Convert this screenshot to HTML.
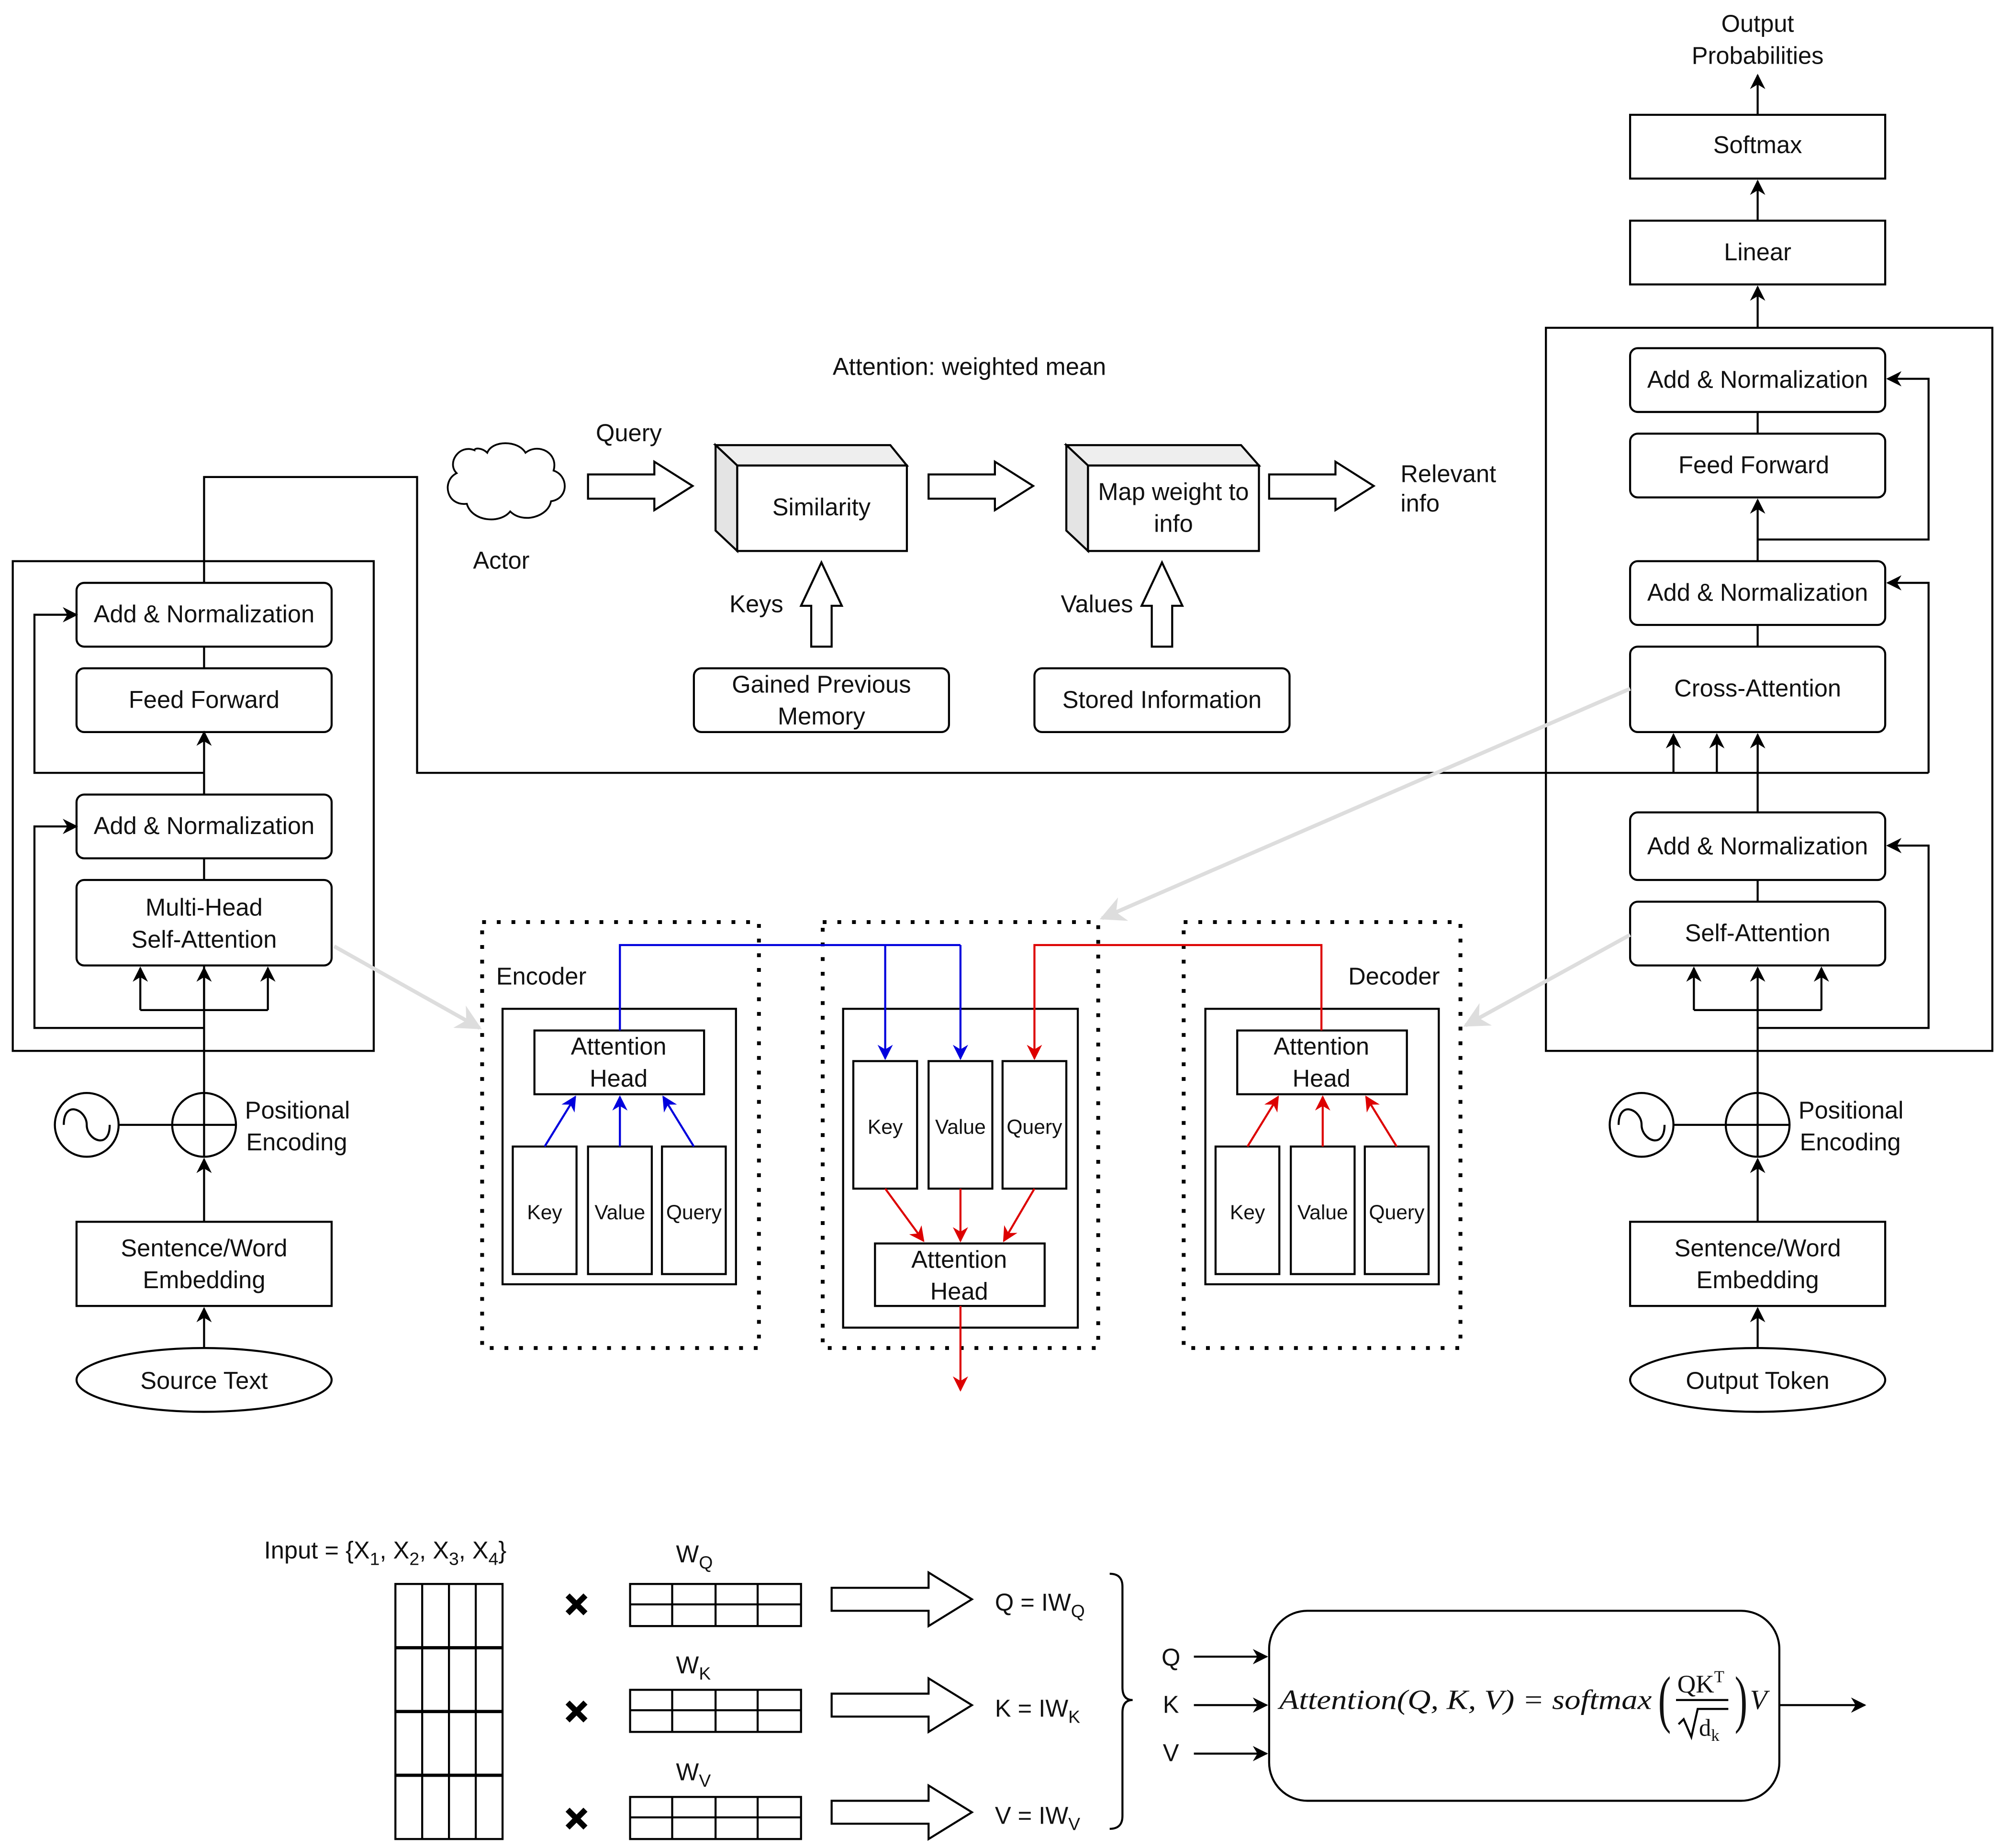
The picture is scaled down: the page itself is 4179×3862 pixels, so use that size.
<!DOCTYPE html>
<html><head><meta charset="utf-8"><style>
html,body{margin:0;padding:0;background:#fff;}
svg{display:block;}
text{font-family:"Liberation Sans",sans-serif;font-size:19px;fill:#111;}
.c{text-anchor:middle;}
.s{font-size:16px;}
.m{font-family:"Liberation Serif",serif;font-style:italic;font-size:22px;}
</style></head><body>
<svg width="4179" height="3862" viewBox="0 0 1568 1449" xmlns="http://www.w3.org/2000/svg">
<defs>
<marker id="ak" viewBox="0 0 10 10" refX="9" refY="5" markerWidth="12" markerHeight="12" orient="auto" markerUnits="userSpaceOnUse"><path d="M0,0 L10,5 L0,10 L3,5z" fill="#000"/></marker>
<marker id="ab" viewBox="0 0 10 10" refX="9" refY="5" markerWidth="12" markerHeight="12" orient="auto" markerUnits="userSpaceOnUse"><path d="M0,0 L10,5 L0,10 L3,5z" fill="#0000dd"/></marker>
<marker id="ar" viewBox="0 0 10 10" refX="9" refY="5" markerWidth="12" markerHeight="12" orient="auto" markerUnits="userSpaceOnUse"><path d="M0,0 L10,5 L0,10 L3,5z" fill="#dd0000"/></marker>
<marker id="ag" viewBox="0 0 10 10" refX="9" refY="5" markerWidth="20" markerHeight="20" orient="auto" markerUnits="userSpaceOnUse"><path d="M0,0 L10,5 L0,10 L3,5z" fill="#ddd"/></marker>
</defs>
<g fill="none" stroke="#000" stroke-width="1.6">
<rect x="10" y="440" width="283" height="384"/>
<path d="M160,507V524 M160,673V690 M160,857V757"/>
<path d="M160,457V374H327V606H1512"/>
<path d="M160,606V574" marker-end="url(#ak)"/>
<path d="M160,623V606"/>
<path d="M160,606H27V482H60" marker-end="url(#ak)"/>
<path d="M160,806H27V648H60" marker-end="url(#ak)"/>
<path d="M110,792H210"/>
<path d="M110,792V759" marker-end="url(#ak)"/><path d="M160,792V759" marker-end="url(#ak)"/><path d="M210,792V759" marker-end="url(#ak)"/>
<path d="M160,958V909" marker-end="url(#ak)"/>
<path d="M160,1057V1026" marker-end="url(#ak)"/>
<circle cx="68" cy="882" r="25"/><path d="M50,882C50,862 68,870 68,882S86,902 86,882"/>
<circle cx="160" cy="882" r="25"/><path d="M135,882H185M160,857V907M93,882H135"/>
<ellipse cx="160" cy="1082" rx="100" ry="25"/>
<rect x="60" y="958" width="200" height="66"/>
<rect x="60" y="457" width="200" height="50" rx="6"/>
<rect x="60" y="524" width="200" height="50" rx="6"/>
<rect x="60" y="623" width="200" height="50" rx="6"/>
<rect x="60" y="690" width="200" height="67" rx="6"/>
<rect x="1212" y="257" width="350" height="567"/>
<path d="M1378,257V225" marker-end="url(#ak)"/>
<path d="M1378,173V142" marker-end="url(#ak)"/>
<path d="M1378,90V59" marker-end="url(#ak)"/>
<path d="M1378,323V340"/>
<path d="M1378,440V392" marker-end="url(#ak)"/>
<path d="M1378,490V507 M1378,690V707 M1378,637V576"/>
<path d="M1378,606V576" marker-end="url(#ak)"/>
<path d="M1312,606V576" marker-end="url(#ak)"/>
<path d="M1346,606V576" marker-end="url(#ak)"/>
<path d="M1378,423H1512V297H1480" marker-end="url(#ak)"/>
<path d="M1512,606V457H1480" marker-end="url(#ak)"/>
<path d="M1378,806H1512V663H1480" marker-end="url(#ak)"/>
<path d="M1328,792H1428"/>
<path d="M1328,792V759" marker-end="url(#ak)"/><path d="M1378,792V759" marker-end="url(#ak)"/><path d="M1428,792V759" marker-end="url(#ak)"/>
<path d="M1378,857V792"/>
<path d="M1378,958V909" marker-end="url(#ak)"/>
<path d="M1378,1057V1026" marker-end="url(#ak)"/>
<circle cx="1287" cy="882" r="25"/><path d="M1269,882C1269,862 1287,870 1287,882S1305,902 1305,882"/>
<circle cx="1378" cy="882" r="25"/><path d="M1353,882H1403M1378,857V907M1312,882H1353"/>
<ellipse cx="1378" cy="1082" rx="100" ry="25"/>
<rect x="1278" y="958" width="200" height="66"/>
<rect x="1278" y="90" width="200" height="50"/>
<rect x="1278" y="173" width="200" height="50"/>
<rect x="1278" y="273" width="200" height="50" rx="6"/>
<rect x="1278" y="340" width="200" height="50" rx="6"/>
<rect x="1278" y="440" width="200" height="50" rx="6"/>
<rect x="1278" y="507" width="200" height="67" rx="6"/>
<rect x="1278" y="637" width="200" height="53" rx="6"/>
<rect x="1278" y="707" width="200" height="50" rx="6"/>
<path d="M372,353c-12,-5 -22,10 -14,18c-12,6 -8,26 8,24c4,14 26,16 34,6c10,10 30,4 32,-8c14,-2 14,-20 2,-24c4,-14 -12,-22 -22,-14c-6,-10 -26,-10 -30,0c-4,-4 -10,-4 -10,-2z" stroke-width="1.4"/>
<path d="M461,372H513V362L543,381L513,400V391H461Z"/>
<path d="M728,372H780V362L810,381L780,400V391H728Z"/>
<path d="M995,372H1047V362L1077,381L1047,400V391H995Z"/>
<path d="M561,349H698L711,365H578Z" fill="#eee"/>
<path d="M561,349L578,365V432L561,416Z" fill="#e4e4e4"/>
<rect x="578" y="365" width="133" height="67" fill="#fff"/>
<path d="M836,349H973L987,365H853Z" fill="#eee"/>
<path d="M836,349L853,365V432L836,416Z" fill="#e4e4e4"/>
<rect x="853" y="365" width="134" height="67" fill="#fff"/>
<path d="M636,507V475H628L644,441L660,475H652V507Z"/>
<path d="M903,507V475H895L911,441L927,475H919V507Z"/>
<rect x="544" y="524" width="200" height="50" rx="6"/>
<rect x="811" y="524" width="200" height="50" rx="6"/>
</g>
<g stroke="#ddd" stroke-width="3" fill="none">
<path d="M262,742L376,806" marker-end="url(#ag)"/>
<path d="M1278,540L864,720" marker-end="url(#ag)"/>
<path d="M1278,733L1149,804" marker-end="url(#ag)"/>
</g>
<g fill="none" stroke="#000" stroke-width="1.6">
<rect x="378" y="723" width="217" height="334" stroke-width="3" stroke-dasharray="3,8.5"/>
<rect x="645" y="723" width="216" height="334" stroke-width="3" stroke-dasharray="3,8.5"/>
<rect x="928" y="723" width="217" height="334" stroke-width="3" stroke-dasharray="3,8.5"/>
<rect x="394" y="791" width="183" height="216"/>
<rect x="419" y="808" width="133" height="50"/>
<rect x="402" y="899" width="50" height="100"/><rect x="461" y="899" width="50" height="100"/><rect x="519" y="899" width="50" height="100"/>
<rect x="661" y="791" width="184" height="250"/>
<rect x="669" y="832" width="50" height="100"/><rect x="728" y="832" width="50" height="100"/><rect x="786" y="832" width="50" height="100"/>
<rect x="686" y="975" width="133" height="49"/>
<rect x="945" y="791" width="183" height="216"/>
<rect x="970" y="808" width="133" height="50"/>
<rect x="953" y="899" width="50" height="100"/><rect x="1012" y="899" width="50" height="100"/><rect x="1070" y="899" width="50" height="100"/>
</g>
<g fill="none" stroke="#0000dd" stroke-width="1.6">
<path d="M427,899L451,860" marker-end="url(#ab)"/>
<path d="M486,899V860" marker-end="url(#ab)"/>
<path d="M544,899L520,860" marker-end="url(#ab)"/>
<path d="M486,808V741H753"/>
<path d="M694,741V830" marker-end="url(#ab)"/>
<path d="M753,741V830" marker-end="url(#ab)"/>
</g>
<g fill="none" stroke="#dd0000" stroke-width="1.6">
<path d="M978,899L1002,860" marker-end="url(#ar)"/>
<path d="M1037,899V860" marker-end="url(#ar)"/>
<path d="M1095,899L1071,860" marker-end="url(#ar)"/>
<path d="M1036,808V741H811V830" marker-end="url(#ar)"/>
<path d="M694,932L724,973" marker-end="url(#ar)"/>
<path d="M753,932V973" marker-end="url(#ar)"/>
<path d="M811,932L787,973" marker-end="url(#ar)"/>
<path d="M753,1024V1090" marker-end="url(#ar)"/>
</g>
<g fill="none" stroke="#000" stroke-width="1.6">
<rect x="310" y="1242" width="84" height="200"/>
<path d="M331,1242V1442M352,1242V1442M373,1242V1442"/>
<path d="M310,1292H394M310,1342H394M310,1392H394" stroke-width="2.5"/>
<rect x="494" y="1242" width="134" height="33"/><path d="M494,1258H628M527,1242V1275M561,1242V1275M594,1242V1275"/>
<rect x="494" y="1325" width="134" height="33"/><path d="M494,1341H628M527,1325V1358M561,1325V1358M594,1325V1358"/>
<rect x="494" y="1409" width="134" height="33"/><path d="M494,1425H628M527,1409V1442M561,1409V1442M594,1409V1442"/>
<path d="M652,1245H728V1233L762,1254L728,1275V1263H652Z"/>
<path d="M652,1328H728V1316L762,1337L728,1358V1346H652Z"/>
<path d="M652,1412H728V1400L762,1421L728,1442V1430H652Z"/>
<path d="M870,1234Q880,1234 880,1244V1323Q880,1333 888,1333Q880,1333 880,1343V1424Q880,1434 870,1434"/>
<path d="M936,1299H993" marker-end="url(#ak)"/>
<path d="M936,1337H993" marker-end="url(#ak)"/>
<path d="M936,1375H993" marker-end="url(#ak)"/>
<rect x="995" y="1263" width="400" height="149" rx="30"/>
<path d="M1395,1337H1462" marker-end="url(#ak)"/>
<path d="M1314,1333H1355"/>
<path d="M1316,1352l4,-4l6,14l5,-22h24"/>
</g>
<g stroke="#000" stroke-width="4.5">
<path d="M445,1251l14,14M459,1251l-14,14M445,1335l14,14M459,1335l-14,14M445,1419l14,14M459,1419l-14,14"/>
</g>
<g>
<text x="160" y="488" class="c">Add &amp; Normalization</text>
<text x="160" y="555" class="c">Feed Forward</text>
<text x="160" y="654" class="c">Add &amp; Normalization</text>
<text x="160" y="718" class="c">Multi-Head</text>
<text x="160" y="743" class="c">Self-Attention</text>
<text x="192" y="877">Positional</text>
<text x="193" y="902">Encoding</text>
<text x="160" y="985" class="c">Sentence/Word</text>
<text x="160" y="1010" class="c">Embedding</text>
<text x="160" y="1089" class="c">Source Text</text>
<text x="1378" y="25" class="c">Output</text>
<text x="1378" y="50" class="c">Probabilities</text>
<text x="1378" y="120" class="c">Softmax</text>
<text x="1378" y="204" class="c">Linear</text>
<text x="1378" y="304" class="c">Add &amp; Normalization</text>
<text x="1375" y="371" class="c">Feed Forward</text>
<text x="1378" y="471" class="c">Add &amp; Normalization</text>
<text x="1378" y="546" class="c">Cross-Attention</text>
<text x="1378" y="670" class="c">Add &amp; Normalization</text>
<text x="1378" y="738" class="c">Self-Attention</text>
<text x="1410" y="877">Positional</text>
<text x="1411" y="902">Encoding</text>
<text x="1378" y="985" class="c">Sentence/Word</text>
<text x="1378" y="1010" class="c">Embedding</text>
<text x="1378" y="1089" class="c">Output Token</text>
<text x="760" y="294" class="c">Attention: weighted mean</text>
<text x="493" y="346" class="c">Query</text>
<text x="393" y="446" class="c">Actor</text>
<text x="644" y="404" class="c">Similarity</text>
<text x="920" y="392" class="c">Map weight to</text>
<text x="920" y="417" class="c">info</text>
<text x="1098" y="378">Relevant</text>
<text x="1098" y="401">info</text>
<text x="593" y="480" class="c">Keys</text>
<text x="860" y="480" class="c">Values</text>
<text x="644" y="543" class="c">Gained Previous</text>
<text x="644" y="568" class="c">Memory</text>
<text x="911" y="555" class="c">Stored Information</text>
<text x="389" y="772">Encoder</text>
<text x="1057" y="772">Decoder</text>
<text x="485" y="827" class="c">Attention</text>
<text x="485" y="852" class="c">Head</text>
<text x="1036" y="827" class="c">Attention</text>
<text x="1036" y="852" class="c">Head</text>
<text x="752" y="994" class="c">Attention</text>
<text x="752" y="1019" class="c">Head</text>
<text x="427" y="956" class="c s">Key</text><text x="486" y="956" class="c s">Value</text><text x="544" y="956" class="c s">Query</text>
<text x="694" y="889" class="c s">Key</text><text x="753" y="889" class="c s">Value</text><text x="811" y="889" class="c s">Query</text>
<text x="978" y="956" class="c s">Key</text><text x="1037" y="956" class="c s">Value</text><text x="1095" y="956" class="c s">Query</text>
<text x="207" y="1222">Input = {X<tspan font-size="14" dy="5">1</tspan><tspan dy="-5">, X</tspan><tspan font-size="14" dy="5">2</tspan><tspan dy="-5">, X</tspan><tspan font-size="14" dy="5">3</tspan><tspan dy="-5">, X</tspan><tspan font-size="14" dy="5">4</tspan><tspan dy="-5">}</tspan></text>
<text x="530" y="1225">W<tspan font-size="14" dy="5">Q</tspan></text>
<text x="530" y="1312">W<tspan font-size="14" dy="5">K</tspan></text>
<text x="530" y="1396">W<tspan font-size="14" dy="5">V</tspan></text>
<text x="780" y="1263">Q = IW<tspan font-size="14" dy="5">Q</tspan></text>
<text x="780" y="1346">K = IW<tspan font-size="14" dy="5">K</tspan></text>
<text x="780" y="1430">V = IW<tspan font-size="14" dy="5">V</tspan></text>
<text x="918" y="1306" class="c">Q</text>
<text x="918" y="1343" class="c">K</text>
<text x="918" y="1381" class="c">V</text>
<text x="1003" y="1340" class="m" textLength="292" lengthAdjust="spacingAndGlyphs">Attention(Q, K, V) = softmax</text>
<text x="1300" y="1349" style="font-family:'Liberation Serif',serif;font-size:50px;" transform="translate(1300,1349) scale(0.6,1) translate(-1300,-1349)">(</text>
<text x="1360" y="1349" style="font-family:'Liberation Serif',serif;font-size:50px;" transform="translate(1360,1349) scale(0.6,1) translate(-1360,-1349)">)</text>
<text x="1315" y="1327" style="font-family:'Liberation Serif',serif;font-size:20px;">QK<tspan font-size="13" dy="-8">T</tspan></text>
<text x="1332" y="1361" style="font-family:'Liberation Serif',serif;font-size:19px;">d<tspan font-size="13" dy="4">k</tspan></text>
<text x="1372" y="1340" class="m">V</text>
</g>
</svg>
</body></html>
